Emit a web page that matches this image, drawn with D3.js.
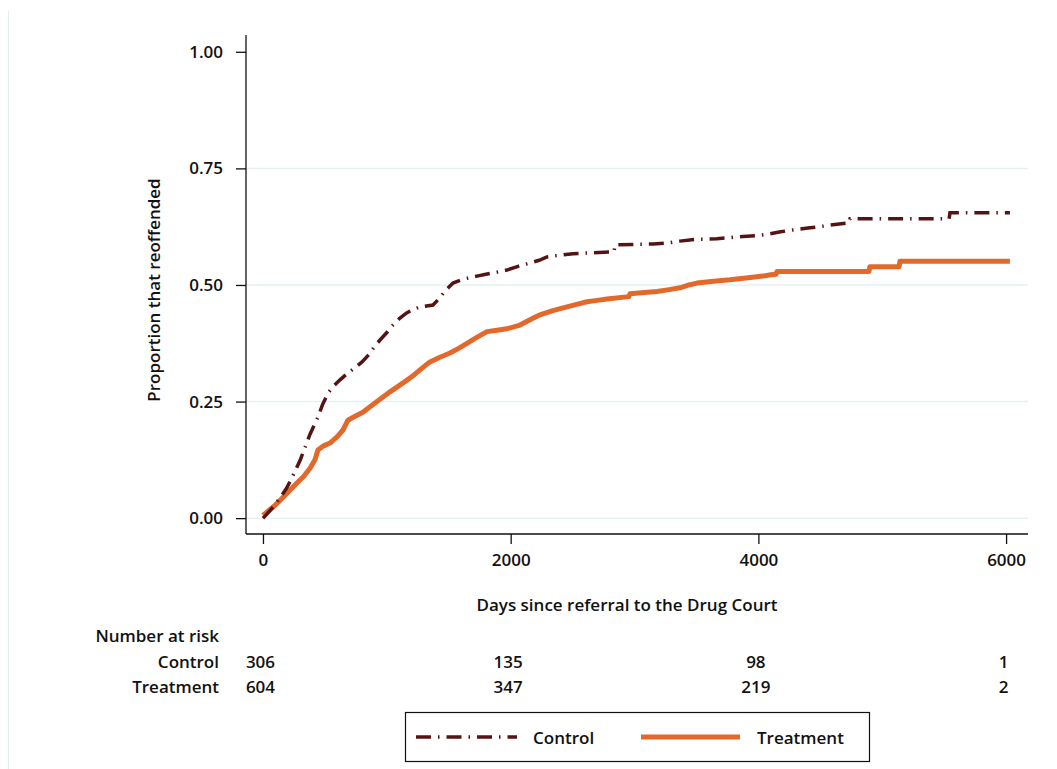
<!DOCTYPE html>
<html>
<head>
<meta charset="utf-8">
<script src="https://cdn.jsdelivr.net/npm/d3@7/dist/d3.min.js"></script>
<style>
  html, body { margin: 0; padding: 0; background: #fff; }
  svg text { font-family: "Open Sans", sans-serif; font-weight: 600; fill: #111; }
</style>
</head>
<body>
<svg id="chart" width="1057" height="769"></svg>
<script>
// ---- data ----
const controlDays = [0, 30, 60, 100, 150, 190, 240, 300, 340, 380, 420, 445, 480, 525, 570, 620, 680, 740, 800, 860, 900, 945, 1000, 1050, 1106, 1160, 1210, 1268, 1320, 1373, 1420, 1470, 1534, 1600, 1660, 1728, 1800, 1880, 1970, 2060, 2156, 2230, 2293, 2400, 2503, 2650, 2835, 2842, 3000, 3149, 3260, 3367, 3504, 3665, 3875, 4000, 4077, 4180, 4279, 4400, 4497, 4600, 4733, 4740, 5540, 5547, 6031];
const controlValues = [0, 0.008, 0.017, 0.03, 0.048, 0.064, 0.09, 0.124, 0.152, 0.18, 0.203, 0.217, 0.243, 0.268, 0.283, 0.296, 0.31, 0.322, 0.335, 0.352, 0.368, 0.382, 0.398, 0.414, 0.429, 0.44, 0.447, 0.453, 0.455, 0.457, 0.47, 0.487, 0.504, 0.511, 0.515, 0.519, 0.523, 0.527, 0.532, 0.54, 0.547, 0.553, 0.56, 0.564, 0.567, 0.569, 0.571, 0.586, 0.587, 0.588, 0.59, 0.594, 0.598, 0.599, 0.604, 0.606, 0.609, 0.614, 0.618, 0.622, 0.625, 0.629, 0.633, 0.642, 0.642, 0.655, 0.655];

const treatmentDays = [0, 50, 100, 137, 200, 272, 330, 380, 420, 444, 490, 541, 600, 646, 686, 740, 807, 870, 945, 1010, 1082, 1163, 1220, 1268, 1310, 1348, 1420, 1510, 1580, 1647, 1730, 1809, 1890, 1970, 2075, 2160, 2237, 2340, 2455, 2540, 2616, 2700, 2777, 2955, 2963, 3080, 3181, 3280, 3367, 3440, 3504, 3640, 3770, 3900, 4037, 4100, 4143, 4150, 4893, 4900, 5136, 5143, 6031];
const treatmentValues = [0.006, 0.017, 0.028, 0.038, 0.055, 0.075, 0.09, 0.107, 0.125, 0.146, 0.155, 0.161, 0.175, 0.189, 0.21, 0.218, 0.227, 0.24, 0.255, 0.268, 0.281, 0.296, 0.307, 0.318, 0.327, 0.335, 0.344, 0.354, 0.364, 0.375, 0.388, 0.4, 0.403, 0.406, 0.414, 0.426, 0.436, 0.445, 0.453, 0.459, 0.464, 0.467, 0.47, 0.475, 0.481, 0.484, 0.486, 0.49, 0.494, 0.5, 0.504, 0.508, 0.511, 0.515, 0.519, 0.522, 0.523, 0.529, 0.529, 0.539, 0.539, 0.551, 0.551];

const yTicks = [0, 0.25, 0.5, 0.75, 1.0];
const xTicks = [0, 2000, 4000, 6000];
const riskGroups = ["Control", "Treatment"];
const riskControl = [306, 135, 98, 1];
const riskTreatment = [604, 347, 219, 2];

const controlColor = "#551414";
const treatmentColor = "#e2692b";
const gridColor = "#e7f1f3";
const FS = "17px";

// ---- layout ----
const svg = d3.select("#chart");
const x = d3.scaleLinear().domain([-137, 6177]).range([246, 1028]);
const y = d3.scaleLinear().domain([-0.034, 1.036]).range([534, 35]);

// outer faint border line
svg.append("line").attr("x1", 8.5).attr("x2", 8.5).attr("y1", 11).attr("y2", 769)
  .attr("stroke", "#e3eeee").attr("stroke-width", 1);

// gridlines
svg.append("g").selectAll("line").data(yTicks.filter(d => d < 1)).join("line")
  .attr("x1", 246).attr("x2", 1028)
  .attr("y1", d => y(d)).attr("y2", d => y(d))
  .attr("stroke", gridColor).attr("stroke-width", 1.5);

// axes
const yAxis = d3.axisLeft(y).tickValues(yTicks).tickFormat(d3.format(".2f")).tickSize(10).tickPadding(13);
const gy = svg.append("g").attr("transform", "translate(246,0)").call(yAxis);
const xAxis = d3.axisBottom(x).tickValues(xTicks).tickFormat(d3.format("d")).tickSize(10).tickPadding(10);
const gx = svg.append("g").attr("transform", "translate(0,534)").call(xAxis);
[gy, gx].forEach(g => {
  g.select(".domain").attr("stroke", "#111").attr("stroke-width", 1.3);
  g.selectAll(".tick line").attr("stroke", "#111").attr("stroke-width", 1.3);
  g.selectAll(".tick text").style("font-family", "'Open Sans', sans-serif")
    .style("font-weight", 600).style("font-size", FS).attr("fill", "#111");
});
gy.select(".domain").attr("d", `M0,${y.range()[1]}V${y.range()[0]}`);
gx.select(".domain").attr("d", `M${x.range()[0]},0H${x.range()[1]}`);

// axis titles
svg.append("text").attr("transform", `translate(160,290) rotate(-90)`)
  .attr("text-anchor", "middle").style("font-size", FS).text("Proportion that reoffended");
svg.append("text").attr("x", 627).attr("y", 611).attr("text-anchor", "middle")
  .style("font-size", FS).text("Days since referral to the Drug Court");

// curves
const line = d3.line().x(d => x(d[0])).y(d => y(d[1])).curve(d3.curveLinear);
const treatmentData = treatmentDays.map((d, i) => [d, treatmentValues[i]]);
const controlData = controlDays.map((d, i) => [d, controlValues[i]]);

svg.append("path").datum(treatmentData).attr("d", line)
  .attr("fill", "none").attr("stroke", treatmentColor).attr("stroke-width", 5)
  .attr("stroke-linejoin", "round");
svg.append("path").datum(controlData).attr("d", line)
  .attr("fill", "none").attr("stroke", controlColor).attr("stroke-width", 3.5)
  .attr("stroke-dasharray", "15,7,1.5,7");

// risk table
svg.append("text").attr("x", 219).attr("y", 642).attr("text-anchor", "end")
  .style("font-size", FS).text("Number at risk");
const rows = [riskControl, riskTreatment];
riskGroups.forEach((g, i) => {
  const yy = 668 + i * 25;
  svg.append("text").attr("x", 219).attr("y", yy).attr("text-anchor", "end")
    .style("font-size", FS).text(g);
  svg.append("g").selectAll("text").data(rows[i]).join("text")
    .attr("x", (d, j) => x(xTicks[j]) - 2.5).attr("y", yy).attr("text-anchor", "middle")
    .style("font-size", FS).text(d => d);
});

// legend
const lg = svg.append("g");
lg.append("rect").attr("x", 405.5).attr("y", 712.5).attr("width", 464).attr("height", 49)
  .attr("fill", "#fff").attr("stroke", "#111").attr("stroke-width", 1.2);
lg.append("line").attr("x1", 416).attr("x2", 517).attr("y1", 737).attr("y2", 737)
  .attr("stroke", controlColor).attr("stroke-width", 3.5).attr("stroke-dasharray", "15,7,1.5,7");
lg.append("text").attr("x", 533).attr("y", 744).style("font-size", FS).text("Control");
lg.append("line").attr("x1", 641).attr("x2", 740).attr("y1", 737).attr("y2", 737)
  .attr("stroke", treatmentColor).attr("stroke-width", 5);
lg.append("text").attr("x", 757).attr("y", 744).style("font-size", FS).text("Treatment");
</script>
</body>
</html>
